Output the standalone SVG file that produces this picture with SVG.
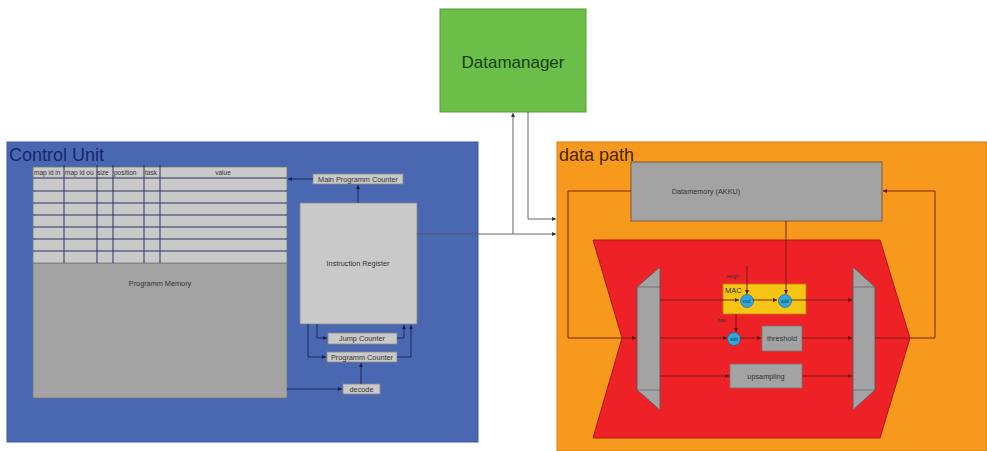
<svg xmlns="http://www.w3.org/2000/svg" width="987" height="451" viewBox="0 0 987 451">
<defs>
<marker id="ab" viewBox="0 0 10 10" refX="10" refY="5" markerWidth="4" markerHeight="4" markerUnits="userSpaceOnUse" orient="auto"><path d="M0,0 L10,5 L0,10 z" fill="#1a2050"/></marker>
<marker id="ar" viewBox="0 0 10 10" refX="10" refY="5" markerWidth="4" markerHeight="4" markerUnits="userSpaceOnUse" orient="auto"><path d="M0,0 L10,5 L0,10 z" fill="#5a1208"/></marker>
<marker id="ag" viewBox="0 0 10 10" refX="10" refY="5" markerWidth="4" markerHeight="4" markerUnits="userSpaceOnUse" orient="auto"><path d="M0,0 L10,5 L0,10 z" fill="#333"/></marker>
</defs>
<style>
text{font-family:"Liberation Sans",Arial,sans-serif;}
.lbl{font-size:7.3px;fill:#333;text-anchor:middle;}
.hdr{font-size:6.5px;fill:#333;}
.box{fill:#c9c9c9;stroke:#888;stroke-width:0.8;}
.cb{fill:none;stroke:#1a2050;stroke-width:0.9;}
.cr{fill:none;stroke:#6a1a0e;stroke-width:0.9;}
.cg{fill:none;stroke:#555;stroke-width:0.9;}
.circ{fill:#2aa8e0;stroke:#1a5a90;stroke-width:0.6;}
.tiny{font-size:4.5px;fill:#333;text-anchor:middle;}
</style>
<rect width="987" height="451" fill="#ffffff"/>

<g id="control-unit">
<rect x="7" y="142" width="471" height="300" fill="#4a67b1" stroke="#3a57a0" stroke-width="1"/>
<text x="9" y="161" font-size="18" fill="#15276e">Control Unit</text>
</g>

<g id="programm-memory">
<rect x="33" y="263" width="254" height="135" fill="#a3a3a3" stroke="#777" stroke-width="0.8"/>
<text x="160" y="286" class="lbl">Programm Memory</text>
</g>

<g id="table">
<rect x="33" y="167" width="254" height="96" fill="#c9c9c9" stroke="#777" stroke-width="0.8"/>
<g class="cb">
<line x1="33" y1="178" x2="287" y2="178"/>
<line x1="33" y1="191" x2="287" y2="191"/>
<line x1="33" y1="203" x2="287" y2="203"/>
<line x1="33" y1="215" x2="287" y2="215"/>
<line x1="33" y1="227" x2="287" y2="227"/>
<line x1="33" y1="239" x2="287" y2="239"/>
<line x1="33" y1="251" x2="287" y2="251"/>
<line x1="64" y1="165" x2="64" y2="263"/>
<line x1="97" y1="165" x2="97" y2="263"/>
<line x1="113" y1="165" x2="113" y2="263"/>
<line x1="144" y1="165" x2="144" y2="263"/>
<line x1="160" y1="165" x2="160" y2="263"/>
</g>
<text x="34" y="175" class="hdr">map id in</text>
<text x="65" y="175" class="hdr">map id ou</text>
<text x="97" y="175" class="hdr">size</text>
<text x="114" y="175" class="hdr">position</text>
<text x="145" y="175" class="hdr">task</text>
<text x="223" y="175" class="hdr" text-anchor="middle">value</text>
</g>

<g id="main-programm-counter">
<rect x="313" y="174" width="90" height="10" class="box"/>
<text x="358" y="181.5" class="lbl">Main Programm Counter</text>
</g>

<g id="instruction-register">
<rect x="300" y="203" width="117" height="121" class="box"/>
<text x="358" y="266" class="lbl">Instruction Register</text>
</g>

<g id="jump-counter">
<rect x="328" y="333" width="69" height="11" class="box"/>
<text x="362" y="341" class="lbl">Jump Counter</text>
</g>

<g id="programm-counter">
<rect x="327" y="352" width="70" height="10" class="box"/>
<text x="362" y="360" class="lbl">Programm Counter</text>
</g>

<g id="decode">
<rect x="343" y="384" width="37" height="10" class="box"/>
<text x="361.5" y="391.5" class="lbl">decode</text>
</g>

<g id="datamanager">
<rect x="440" y="9" width="146" height="103" fill="#6bbf48" stroke="#5a9a40" stroke-width="1"/>
<text x="513" y="68" font-size="17" fill="#173d12" text-anchor="middle">Datamanager</text>
</g>

<g id="data-path">
<rect x="557" y="142" width="430" height="309" fill="#f7991d" stroke="#d08010" stroke-width="1"/>
<text x="559" y="161" font-size="18" fill="#4a2600">data path</text>
</g>

<g id="datamemory">
<rect x="631" y="162" width="251" height="59" fill="#a3a3a3" stroke="#7a5a3a" stroke-width="1"/>
<text x="706" y="194" class="lbl">Datamemory (AKKU)</text>
</g>

<g id="pipeline">
<polygon points="593,240 880,240 910,338 880,438 593,438 622,338" fill="#ee2126" stroke="#b01818" stroke-width="1"/>
</g>

<g id="mux-in">
<polygon points="637,287 660,267 660,410 637,390" fill="#a3a3a3" stroke="#555" stroke-width="0.8"/>
<line x1="637" y1="287" x2="660" y2="287" stroke="#555" stroke-width="0.6"/>
<line x1="637" y1="390" x2="660" y2="390" stroke="#555" stroke-width="0.6"/>
</g>

<g id="mux-out">
<polygon points="853,267 875,287 875,390 853,410" fill="#a3a3a3" stroke="#555" stroke-width="0.8"/>
<line x1="853" y1="287" x2="875" y2="287" stroke="#555" stroke-width="0.6"/>
<line x1="853" y1="390" x2="875" y2="390" stroke="#555" stroke-width="0.6"/>
</g>

<g id="mac">
<rect x="723" y="284" width="83" height="30" fill="#f6c413" stroke="#b08a10" stroke-width="0.8"/>
<text x="725" y="293" font-size="7.5" fill="#333">MAC</text>
</g>

<g id="mul">
<circle cx="747" cy="301" r="6.5" class="circ"/>
<text x="747" y="302.7" class="tiny">mul</text>
</g>

<g id="add-mac">
<circle cx="785" cy="301" r="6.5" class="circ"/>
<text x="785" y="302.7" class="tiny">add</text>
</g>

<g id="add-bias">
<circle cx="734" cy="339" r="6.5" class="circ"/>
<text x="734" y="340.7" class="tiny">add</text>
</g>

<g id="threshold">
<rect x="762" y="326" width="40" height="25" fill="#a3a3a3" stroke="#777" stroke-width="0.8"/>
<text x="782" y="341" class="lbl">threshold</text>
</g>

<g id="upsampling">
<rect x="730" y="364" width="72" height="24" fill="#a3a3a3" stroke="#777" stroke-width="0.8"/>
<text x="766" y="378.5" class="lbl">upsampling</text>
</g>

<text x="733" y="278" class="tiny">weight</text>
<text x="722" y="322" class="tiny">bias</text>

<g id="connectors">
<path class="cb" d="M313,179 L288,179" marker-end="url(#ab)"/>
<path class="cb" d="M358,203 L358,185" marker-end="url(#ab)"/>
<path class="cb" d="M317,324 L317,338 L327,338" marker-end="url(#ab)"/>
<path class="cb" d="M308,324 L308,357 L326,357" marker-end="url(#ab)"/>
<path class="cb" d="M397,338 L404,338 L404,325" marker-end="url(#ab)"/>
<path class="cb" d="M397,357 L411,357 L411,325" marker-end="url(#ab)"/>
<path class="cb" d="M361,384 L361,363" marker-end="url(#ab)"/>
<path class="cb" d="M287,389 L342,389" marker-end="url(#ab)"/>
<path class="cg" d="M417,234 L556,234" marker-end="url(#ag)"/>
<path class="cg" d="M513,234 L513,113" marker-end="url(#ag)"/>
<path class="cg" d="M528,112 L528,219 L556,219" marker-end="url(#ag)"/>
<path class="cr" d="M631,191 L568,191 L568,338 L636,338" marker-end="url(#ar)"/>
<path class="cr" d="M875,338 L935,338 L935,191 L883,191" marker-end="url(#ar)"/>
<path class="cr" d="M660,300 L739,300" marker-end="url(#ar)"/>
<path class="cr" d="M753,300 L777,300" marker-end="url(#ar)"/>
<path class="cr" d="M791,300 L852,300" marker-end="url(#ar)"/>
<path class="cr" d="M747,266 L747,294" marker-end="url(#ar)"/>
<path class="cr" d="M786,221 L786,294" marker-end="url(#ar)"/>
<path class="cr" d="M736,314 L736,332" marker-end="url(#ar)"/>
<path class="cr" d="M660,338 L727,338" marker-end="url(#ar)"/>
<path class="cr" d="M740,338 L761,338" marker-end="url(#ar)"/>
<path class="cr" d="M802,338 L852,338" marker-end="url(#ar)"/>
<path class="cr" d="M660,376 L729,376" marker-end="url(#ar)"/>
<path class="cr" d="M802,376 L852,376" marker-end="url(#ar)"/>
</g>
</svg>
